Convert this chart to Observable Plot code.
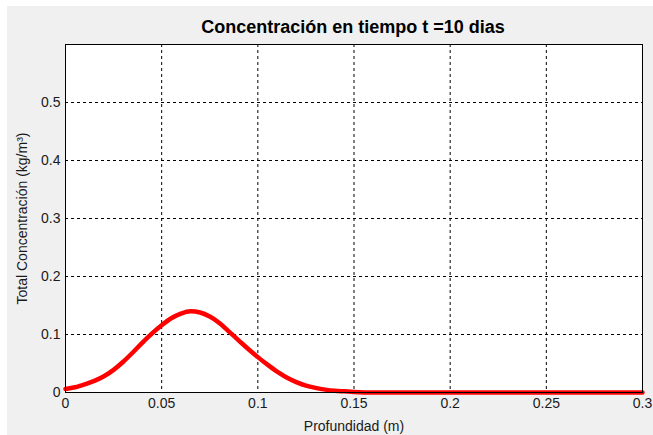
<!DOCTYPE html>
<html><head><meta charset="utf-8">
<script src="https://cdn.jsdelivr.net/npm/d3@7"></script>
<script src="https://cdn.jsdelivr.net/npm/@observablehq/plot@0.6"></script>
<style>
html,body{margin:0;padding:0;background:#fff;width:653px;height:435px;overflow:hidden;font-family:"Liberation Sans",Arial,sans-serif}
#panel{position:absolute;left:7px;top:6px;width:646px;height:429px;background:#f0f0f0}
#title{position:absolute;left:0;top:11px;width:692px;text-align:center;font-weight:bold;font-size:18px;color:#000;line-height:20px}
#chart{position:absolute;left:0;top:0}
</style></head>
<body>
<div id="panel"><div id="title">Concentración en tiempo t =10 dias</div><div id="chart"></div></div>
<script>
const profundidad = [0,0.005,0.01,0.015,0.02,0.025,0.03,0.035,0.04,0.045,0.05,0.055,0.06,0.065,0.07,0.075,0.08,0.085,0.09,0.095,0.1,0.105,0.11,0.115,0.12,0.125,0.13,0.135,0.14,0.145,0.15,0.16,0.3];
const concentracion = [0.006,0.009,0.014,0.020,0.028,0.039,0.053,0.069,0.086,0.102,0.116,0.128,0.136,0.140,0.138,0.131,0.120,0.105,0.090,0.075,0.061,0.048,0.036,0.026,0.018,0.012,0.008,0.005,0.003,0.002,0.001,0.0,0.0];
const xTicks = [0,0.05,0.1,0.15,0.2,0.25,0.3];
const xTickLabels = ["0","0.05","0.1","0.15","0.2","0.25","0.3"];
const yTicks = [0,0.1,0.2,0.3,0.4,0.5];
const yTickLabels = ["0","0.1","0.2","0.3","0.4","0.5"];
const xGrid = [0.05,0.1,0.15,0.2,0.25];
const yGrid = [0.1,0.2,0.3,0.4,0.5];
const data = profundidad.map((p,i)=>({p, c: concentracion[i]}));

const chart = Plot.plot({
  width: 646, height: 429,
  marginLeft: 58, marginTop: 38, marginRight: 11, marginBottom: 43,
  style: {background: "transparent", fontFamily: "'Liberation Sans', Arial, sans-serif", fontSize: "14px", color: "#1a1a1a"},
  x: {domain: [0, 0.3]},
  y: {domain: [0, 0.6]},
  marks: [
    Plot.frame({fill: "white", stroke: "none"}),
    Plot.gridX(xGrid, {stroke: "#000", strokeOpacity: 1, strokeDasharray: "3,3"}),
    Plot.gridY(yGrid, {stroke: "#000", strokeOpacity: 1, strokeDasharray: "3,3"}),
    Plot.line(data, {x: "p", y: "c", stroke: "#ff0000", strokeWidth: 4.5, curve: "monotone-x"}),
    Plot.frame({stroke: "#000", strokeWidth: 1}),
    Plot.axisX(xTicks, {tickSize: 0, tickPadding: 6, fontSize: 14, tickFormat: (d,i)=>xTickLabels[i], label: "Profundidad (m)", labelAnchor: "center", labelArrow: "none", labelOffset: 38}),
    Plot.axisY(yTicks, {tickSize: 0, tickPadding: 5, fontSize: 14, tickFormat: (d,i)=>yTickLabels[i], label: "Total Concentración (kg/m³)", labelAnchor: "center", labelArrow: "none", labelOffset: 48})
  ]
});
document.getElementById("chart").appendChild(chart);
</script>
</body></html>
